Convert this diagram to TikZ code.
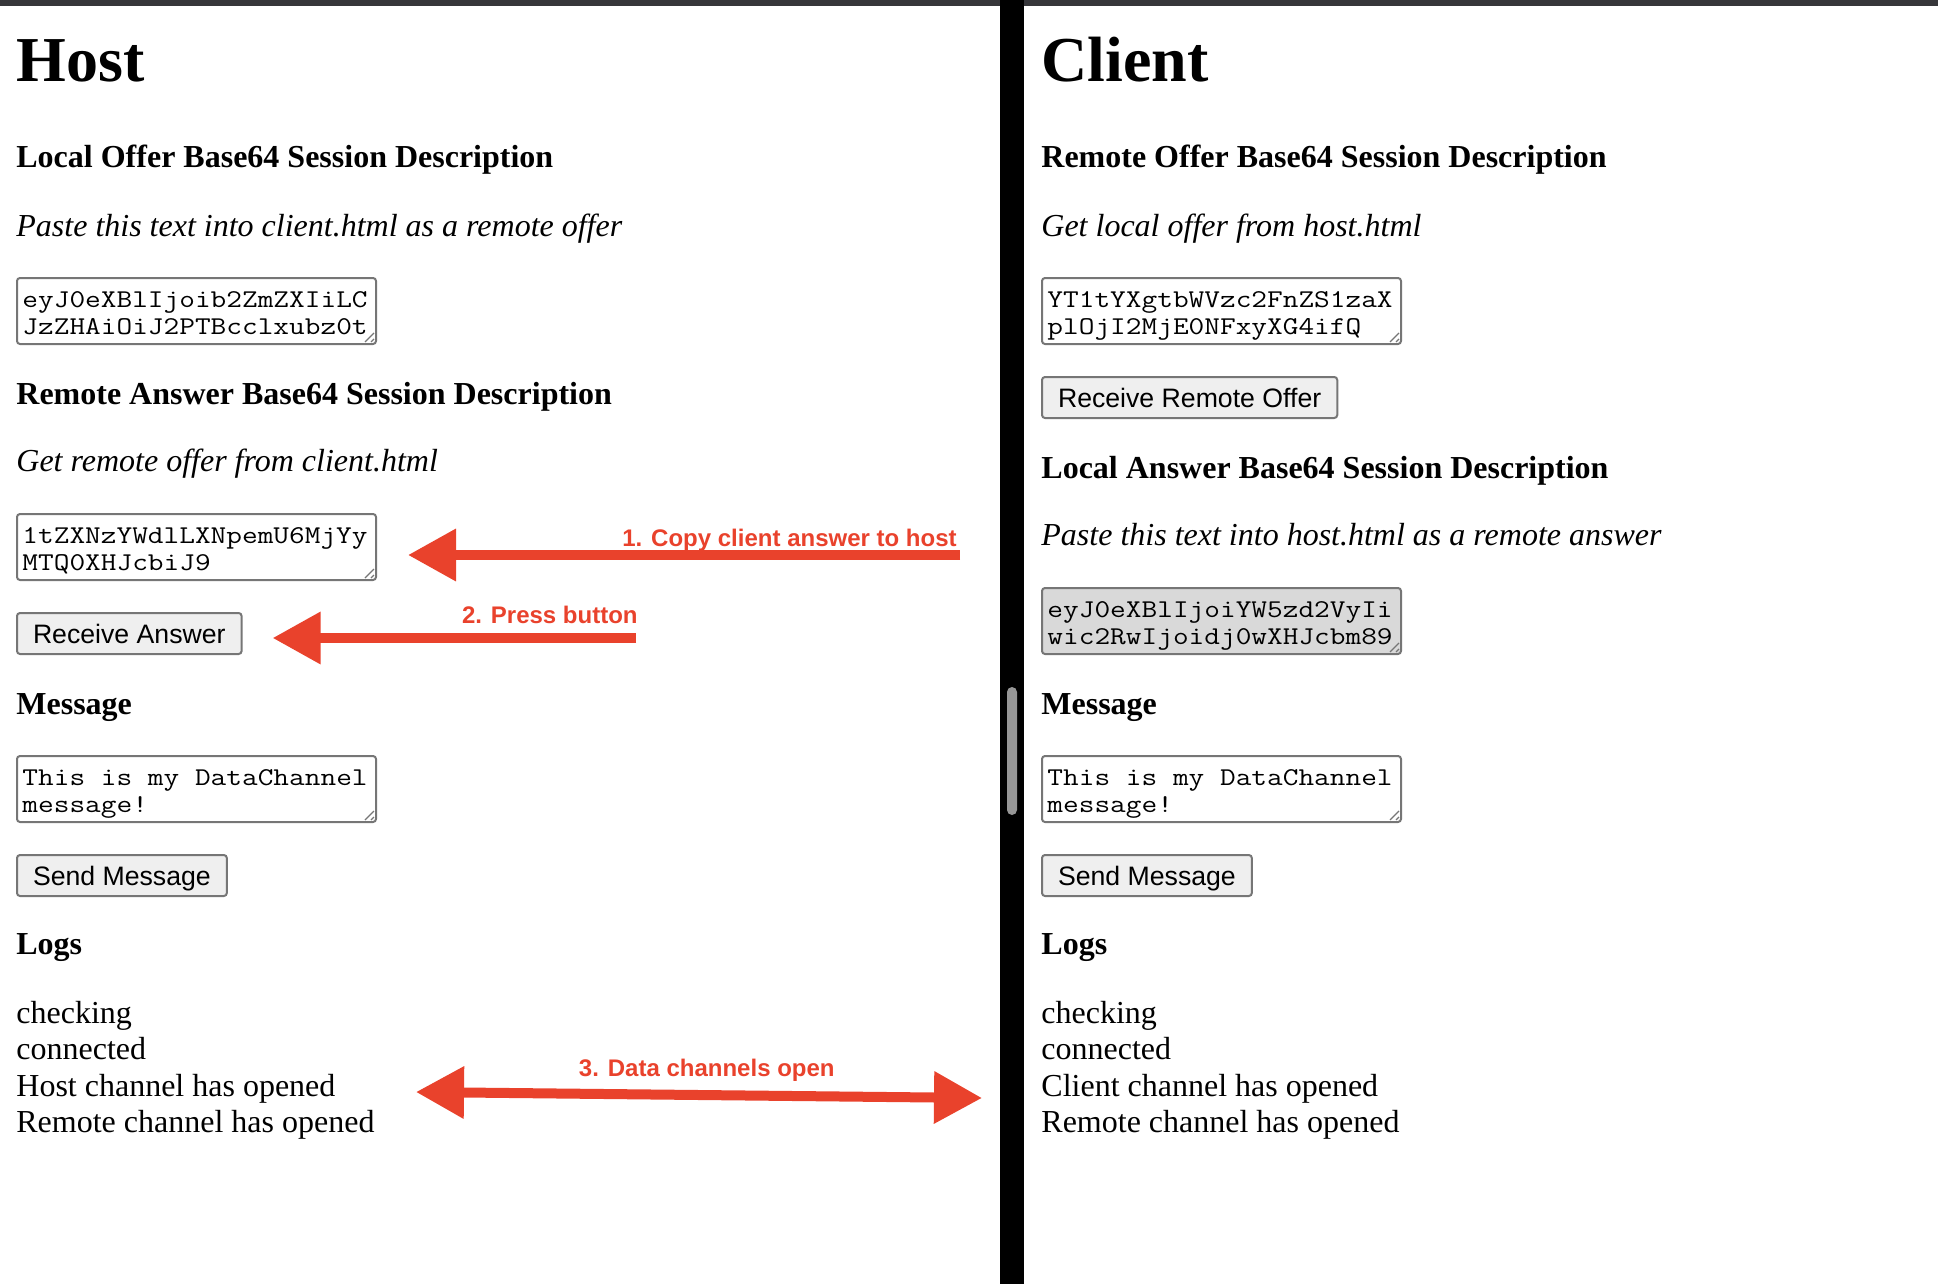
\documentclass[tikz,border=0pt]{standalone}
\usepackage{fontspec}
\setmainfont{Liberation Serif}
\setsansfont{Liberation Sans}
\usetikzlibrary{arrows.meta}
\usetikzlibrary{positioning}
\definecolor{leistegrau}{RGB}{54,54,58}
\definecolor{randgrau}{RGB}{118,118,118}
\definecolor{knopfgrau}{RGB}{239,239,239}
\definecolor{markiert}{RGB}{217,217,217}
\definecolor{balkengrau}{RGB}{150,150,150}
\definecolor{pfeilrot}{RGB}{233,66,44}
\tikzset{
  Titel/.style={anchor=base west, inner sep=0pt, font=\fontsize{32pt}{38pt}\selectfont\bfseries}, % h1
  Kopf/.style={anchor=base west, inner sep=0pt, font=\fontsize{16pt}{19pt}\selectfont\bfseries}, % h3
  Hinweis/.style={anchor=base west, inner sep=0pt, font=\fontsize{16pt}{19pt}\selectfont\itshape},
  Zeile/.style={anchor=base west, inner sep=0pt, font=\fontsize{16pt}{19pt}\selectfont},
  Mono/.style={anchor=base west, inner sep=0pt, xscale=1.19, transform shape,
    font=\ttfamily\fontsize{12.8pt}{16pt}\selectfont},
  Feld/.style={draw=randgrau, line width=1pt, rounded corners=1.5pt, anchor=north west,
    inner sep=0pt, minimum width=179.5pt, minimum height=33pt}, % Textfeld
  Knopf/.style={draw=randgrau, fill=knopfgrau, line width=1pt, rounded corners=1.5pt,
    anchor=north west, inner xsep=8pt, inner ysep=0pt, minimum height=20.5pt,
    text height=9.6pt, text depth=0pt, font=\sffamily\fontsize{13.33pt}{16pt}\selectfont},
  RSpitze/.tip={Triangle[length=24pt, width=25pt]},
  RPfeil/.style={draw=pfeilrot, line width=5pt}, % rote Pfeile
  RText/.style={text=pfeilrot, anchor=base east, inner sep=0pt,
    font=\sffamily\bfseries\fontsize{12pt}{14pt}\selectfont}
}

\begin{document}
\begin{tikzpicture}[x=0.5pt, y=-0.5pt]
\useasboundingbox (0,0) rectangle (1938,1284);

%Fensterrahmen
\fill[leistegrau] (0,0) rectangle (1938,6);
\fill[black] (1000,0) rectangle (1024,1284);
\fill[balkengrau, rounded corners=2.5pt] (1007,687) rectangle (1017,815);

%Host
\node[Titel] (hTitel) at (16,82) {Host};
\node[Kopf] (hKopf1) at (16,168) {Local Offer Base64 Session Description};
\node[Hinweis] (hHinweis1) at (16,236) {Paste this text into client.html as a remote offer};
\node[Feld] (hFeld1) at (16,277) {};
\node[Mono] at ([shift={(6,30)}]hFeld1.north west) {eyJ0eXBlIjoib2ZmZXIiLC};
\node[Mono] at ([shift={(6,57)}]hFeld1.north west) {JzZHAiOiJ2PTBcclxubz0t};
\node[Kopf] (hKopf2) at (16,404) {Remote Answer Base64 Session Description};
\node[Hinweis] (hHinweis2) at (16,471) {Get remote offer from client.html};
\node[Feld] (hFeld2) at (16,513) {};
\node[Mono] at ([shift={(6,30)}]hFeld2.north west) {1tZXNzYWdlLXNpemU6MjYy};
\node[Mono] at ([shift={(6,57)}]hFeld2.north west) {MTQ0XHJcbiJ9};
\node[Knopf] (hKnopf1) at (16,612) {Receive Answer};

%Client
\node[Titel] (cTitel) at (1041,82) {Client};
\node[Kopf] (cKopf1) at (1041,168) {Remote Offer Base64 Session Description};
\node[Hinweis] (cHinweis1) at (1041,236) {Get local offer from host.html};
\node[Feld] (cFeld1) at (1041,277) {};
\node[Mono] at ([shift={(6,30)}]cFeld1.north west) {YT1tYXgtbWVzc2FnZS1zaX};
\node[Mono] at ([shift={(6,57)}]cFeld1.north west) {plOjI2MjE0NFxyXG4ifQ};
\node[Knopf] (cKnopf1) at (1041,376) {Receive Remote Offer};
\node[Kopf] (cKopf2) at (1041,478) {Local Answer Base64 Session Description};
\node[Hinweis] (cHinweis2) at (1041,545) {Paste this text into host.html as a remote answer};
\node[Feld, fill=markiert] (cFeld2) at (1041,587) {};
\node[Mono] at ([shift={(6,30)}]cFeld2.north west) {eyJ0eXBlIjoiYW5zd2VyIi};
\node[Mono] at ([shift={(6,57)}]cFeld2.north west) {wic2RwIjoidj0wXHJcbm89};

%Nachricht und Logs (beide Seiten)
\foreach \seite/\xpos/\wer in {h/16/Host, c/1041/Client}
{
  \node[Kopf] (\seite Kopf3) at (\xpos,714) {Message};
  \node[Feld] (\seite Feld3) at (\xpos,755) {};
  \node[Mono] at ([shift={(6,30)}]\seite Feld3.north west) {This is my DataChannel};
  \node[Mono] at ([shift={(6,57)}]\seite Feld3.north west) {message!};
  \node[Knopf] (\seite Knopf2) at (\xpos,854) {Send Message};
  \node[Kopf] (\seite Kopf4) at (\xpos,954) {Logs};
  \node[Zeile] (\seite Log1) at (\xpos,1023) {checking};
  \node[Zeile] (\seite Log2) at (\xpos,1059) {connected};
  \node[Zeile] (\seite Log3) at (\xpos,1096) {\wer{} channel has opened};
  \node[Zeile] (\seite Log4) at (\xpos,1132) {Remote channel has opened};
}

%Griffe der Textfelder
\foreach \feld in {hFeld1,hFeld2,hFeld3,cFeld1,cFeld2,cFeld3}
  \draw[randgrau, line width=0.6pt]
    ([shift={(-3,-12)}]\feld.south east) -- ([shift={(-12,-3)}]\feld.south east)
    ([shift={(-3,-6)}]\feld.south east) -- ([shift={(-6,-3)}]\feld.south east);

%rote Pfeile
\coordinate (p1) at (960,555);
\coordinate (p2) at (636,638);
\coordinate (d1) at (416,1092);
\coordinate (d2) at (982,1098);
\draw[RPfeil, -RSpitze, shorten >=15.5pt] (p1) -- (hFeld2.east |- p1);
\draw[RPfeil, -RSpitze, shorten >=15pt] (p2) -- (hKnopf1.east |- p2);
\draw[RPfeil, RSpitze-RSpitze] (d1) -- (d2);

\node[RText] (t1) at (957,546) {1. Copy client answer to host};
\node[RText] (t2) at (638,623) {2. Press button};
\node[RText] (t3) at (835,1076) {3. Data channels open};

\end{tikzpicture}
\end{document}
